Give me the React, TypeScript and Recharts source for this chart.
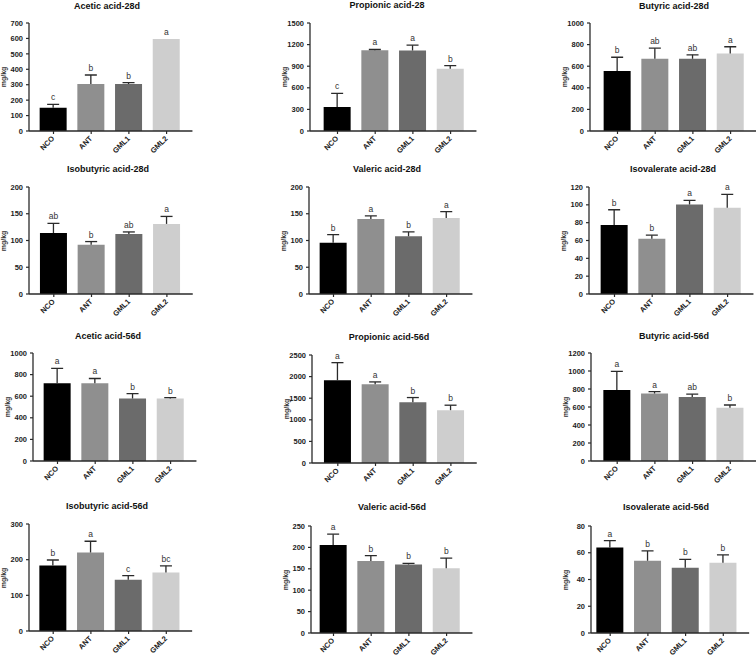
import React from 'react';
import { ComposedChart, Bar, XAxis, YAxis, Cell, LabelList } from 'recharts';

const groups = ['NCO', 'ANT', 'GML1', 'GML2'];
const groupColors = ['#000000', '#8f8f8f', '#6b6b6b', '#cecece'];

const acetic28Mean = [151, 305, 305, 596];
const acetic28Sd = [22, 58, 8, 0];
const acetic28Letters = ['c', 'b', 'b', 'a'];
const acetic28Ticks = [0, 100, 200, 300, 400, 500, 600, 700];

const propionic28Mean = [335, 1120, 1118, 866];
const propionic28Sd = [187, 12, 74, 42];
const propionic28Letters = ['c', 'a', 'a', 'b'];
const propionic28Ticks = [0, 300, 600, 900, 1200, 1500];

const butyric28Mean = [556, 668, 668, 717];
const butyric28Sd = [127, 99, 37, 63];
const butyric28Letters = ['b', 'ab', 'ab', 'a'];
const butyric28Ticks = [0, 200, 400, 600, 800, 1000];

const isobutyric28Mean = [114, 92, 112, 131];
const isobutyric28Sd = [18, 6, 4, 14];
const isobutyric28Letters = ['ab', 'b', 'ab', 'a'];
const isobutyric28Ticks = [0, 50, 100, 150, 200];

const valeric28Mean = [96, 140, 108, 142];
const valeric28Sd = [15, 6, 8, 12];
const valeric28Letters = ['b', 'a', 'b', 'a'];
const valeric28Ticks = [0, 50, 100, 150, 200];

const isovalerate28Mean = [77.5, 62, 100.5, 96.8];
const isovalerate28Sd = [17, 4, 4.5, 15];
const isovalerate28Letters = ['b', 'b', 'a', 'a'];
const isovalerate28Ticks = [0, 20, 40, 60, 80, 100, 120];

const acetic56Mean = [720, 720, 578, 578];
const acetic56Sd = [137, 44, 46, 9];
const acetic56Letters = ['a', 'a', 'b', 'b'];
const acetic56Ticks = [0, 200, 400, 600, 800, 1000];

const propionic56Mean = [1915, 1823, 1408, 1223];
const propionic56Sd = [408, 54, 107, 115];
const propionic56Letters = ['a', 'a', 'b', 'b'];
const propionic56Ticks = [0, 500, 1000, 1500, 2000, 2500];

const butyric56Mean = [790, 749, 712, 593];
const butyric56Sd = [205, 22, 30, 29];
const butyric56Letters = ['a', 'a', 'ab', 'b'];
const butyric56Ticks = [0, 200, 400, 600, 800, 1000, 1200];

const isobutyric56Mean = [183.5, 220, 143.5, 164];
const isobutyric56Sd = [15.5, 31.6, 12, 18.7];
const isobutyric56Letters = ['b', 'a', 'c', 'bc'];
const isobutyric56Ticks = [0, 100, 200, 300];

const valeric56Mean = [205.5, 168, 160, 151.5];
const valeric56Sd = [25.5, 13, 2.5, 23.5];
const valeric56Letters = ['a', 'b', 'b', 'b'];
const valeric56Ticks = [0, 50, 100, 150, 200, 250];

const isovalerate56Mean = [63.9, 54, 48.8, 52.5];
const isovalerate56Sd = [5.1, 7.4, 6.2, 5.9];
const isovalerate56Letters = ['a', 'b', 'b', 'b'];
const isovalerate56Ticks = [0, 20, 40, 60, 80];

const panels = [
  { title: 'Acetic acid-28d', mean: acetic28Mean, sd: acetic28Sd, letters: acetic28Letters, ticks: acetic28Ticks },
  { title: 'Propionic acid-28', mean: propionic28Mean, sd: propionic28Sd, letters: propionic28Letters, ticks: propionic28Ticks },
  { title: 'Butyric acid-28d', mean: butyric28Mean, sd: butyric28Sd, letters: butyric28Letters, ticks: butyric28Ticks },
  { title: 'Isobutyric acid-28d', mean: isobutyric28Mean, sd: isobutyric28Sd, letters: isobutyric28Letters, ticks: isobutyric28Ticks },
  { title: 'Valeric acid-28d', mean: valeric28Mean, sd: valeric28Sd, letters: valeric28Letters, ticks: valeric28Ticks },
  { title: 'Isovalerate acid-28d', mean: isovalerate28Mean, sd: isovalerate28Sd, letters: isovalerate28Letters, ticks: isovalerate28Ticks },
  { title: 'Acetic acid-56d', mean: acetic56Mean, sd: acetic56Sd, letters: acetic56Letters, ticks: acetic56Ticks },
  { title: 'Propionic acid-56d', mean: propionic56Mean, sd: propionic56Sd, letters: propionic56Letters, ticks: propionic56Ticks },
  { title: 'Butyric acid-56d', mean: butyric56Mean, sd: butyric56Sd, letters: butyric56Letters, ticks: butyric56Ticks },
  { title: 'Isobutyric acid-56d', mean: isobutyric56Mean, sd: isobutyric56Sd, letters: isobutyric56Letters, ticks: isobutyric56Ticks },
  { title: 'Valeric acid-56d', mean: valeric56Mean, sd: valeric56Sd, letters: valeric56Letters, ticks: valeric56Ticks },
  { title: 'Isovalerate acid-56d', mean: isovalerate56Mean, sd: isovalerate56Sd, letters: isovalerate56Letters, ticks: isovalerate56Ticks },
];

// layout: axis x, plot top, plot bottom, first-bar offset, title centre
const layout = [
  { ax: 29, top: 23, bot: 131, off: 11, tx: 107, ty: 6 },
  { ax: 310, top: 23, bot: 131, off: 14, tx: 387, ty: 5 },
  { ax: 590, top: 23, bot: 131, off: 14, tx: 674, ty: 6 },
  { ax: 29, top: 187, bot: 294, off: 11.3, tx: 108, ty: 169 },
  { ax: 309, top: 187, bot: 294, off: 11, tx: 387, ty: 169 },
  { ax: 589, top: 187, bot: 294, off: 12, tx: 673, ty: 169 },
  { ax: 33, top: 353, bot: 461, off: 11, tx: 108, ty: 336 },
  { ax: 312, top: 355, bot: 463, off: 12.3, tx: 389, ty: 337 },
  { ax: 591, top: 353, bot: 461, off: 12.7, tx: 674, ty: 336 },
  { ax: 29, top: 524, bot: 631, off: 10.7, tx: 107, ty: 506 },
  { ax: 311, top: 526, bot: 633, off: 9, tx: 392, ty: 507 },
  { ax: 591, top: 526, bot: 633, off: 5.7, tx: 666, ty: 507 },
];

const FONT = '"Liberation Sans", Arial, Helvetica, sans-serif';
const AXIS = '#2a2a2a';
const BAND = 37.7;
const BAR = 27;

const XTick = (props: any) => {
  const { x, y, payload } = props;
  return (
    <g transform={`translate(${x + 1.5},${y + 3})`}>
      <text transform="rotate(-45)" textAnchor="end" fontSize={7.5} fontWeight="bold" fill="#222" fontFamily={FONT}>
        {payload.value}
      </text>
    </g>
  );
};

const ErrShape = (props: any) => {
  const { x, y, width, height } = props;
  if (!(height > 0.3)) return <g />;
  const cx = x + width / 2;
  return (
    <g stroke={AXIS} strokeWidth={1.3}>
      <line x1={cx} x2={cx} y1={y} y2={y + height} />
      <line x1={cx - 6} x2={cx + 6} y1={y} y2={y} />
    </g>
  );
};

const LetterLabel = (props: any) => {
  const { x, y, width, value } = props;
  return (
    <text
      x={x + width / 2}
      y={y - 4}
      textAnchor="middle"
      fontSize={8.5}
      fill="#333"
      style={{ fill: '#333' }}
      fontFamily={FONT}
    >
      {value}
    </text>
  );
};

function Panel({ p, l }: { p: any; l: any }) {
  const data = groups.map((g, i) => ({ group: g, mean: p.mean[i], sd: p.sd[i], letter: p.letters[i] }));
  const plotH = l.bot - l.top;
  const padL = l.off - (BAND - BAR) / 2;
  const padR = 7;
  const plotW = padL + 4 * BAND + padR;
  const MT = 10, YW = 40, XH = 30, MR = 10;
  const width = YW + plotW + MR;
  const height = MT + plotH + XH;
  const max = p.ticks[p.ticks.length - 1];
  return (
    <>
      <div
        style={{
          position: 'absolute', left: l.tx - 110, top: l.ty - 6, width: 220, height: 12, lineHeight: '12px',
          textAlign: 'center', fontFamily: FONT, fontWeight: 'bold', fontSize: 9, color: '#111', whiteSpace: 'nowrap',
        }}
      >
        {p.title}
      </div>
      <div
        style={{
          position: 'absolute', left: l.ax - 25, top: (l.top + l.bot) / 2, width: 0, height: 0,
        }}
      >
        <div
          style={{
            position: 'absolute', left: -30, top: -5, width: 60, height: 10, lineHeight: '10px', textAlign: 'center',
            transform: 'rotate(-90deg)', fontFamily: FONT, fontWeight: 'bold', fontSize: 7, color: '#333',
          }}
        >
          mg/kg
        </div>
      </div>
      <div style={{ position: 'absolute', left: l.ax - YW, top: l.top - MT, width, height }}>
        <ComposedChart width={width} height={height} data={data} margin={{ top: MT, right: MR, bottom: 0, left: 0 }}>
          <XAxis
            dataKey="group"
            height={XH}
            interval={0}
            padding={{ left: padL, right: padR }}
            tick={<XTick />}
            tickSize={3}
            tickLine={{ stroke: AXIS, strokeWidth: 1.2 }}
            axisLine={{ stroke: AXIS, strokeWidth: 1.3 }}
          />
          <YAxis
            width={YW}
            domain={[0, max]}
            ticks={p.ticks}
            interval={0}
            allowDataOverflow
            tickSize={3}
            tickMargin={3}
            tick={{ fontSize: 7.5, fontWeight: 'bold', fill: '#222', fontFamily: FONT }}
            tickLine={{ stroke: AXIS, strokeWidth: 1.2 }}
            axisLine={{ stroke: AXIS, strokeWidth: 1.3 }}
          />
          <Bar dataKey="mean" stackId="s" barSize={BAR} isAnimationActive={false}>
            {data.map((d, i) => (
              <Cell key={d.group} fill={groupColors[i]} />
            ))}
          </Bar>
          <Bar dataKey="sd" stackId="s" barSize={BAR} fill="#333" isAnimationActive={false} shape={ErrShape}>
            <LabelList dataKey="letter" fill="#333" content={LetterLabel} />
          </Bar>
        </ComposedChart>
      </div>
    </>
  );
}

export default function App() {
  return (
    <div style={{ position: 'absolute', left: 0, top: 0, width: 756, height: 658, background: '#fff', overflow: 'hidden' }}>
      {panels.map((p, i) => (
        <Panel key={p.title} p={p} l={layout[i]} />
      ))}
    </div>
  );
}
